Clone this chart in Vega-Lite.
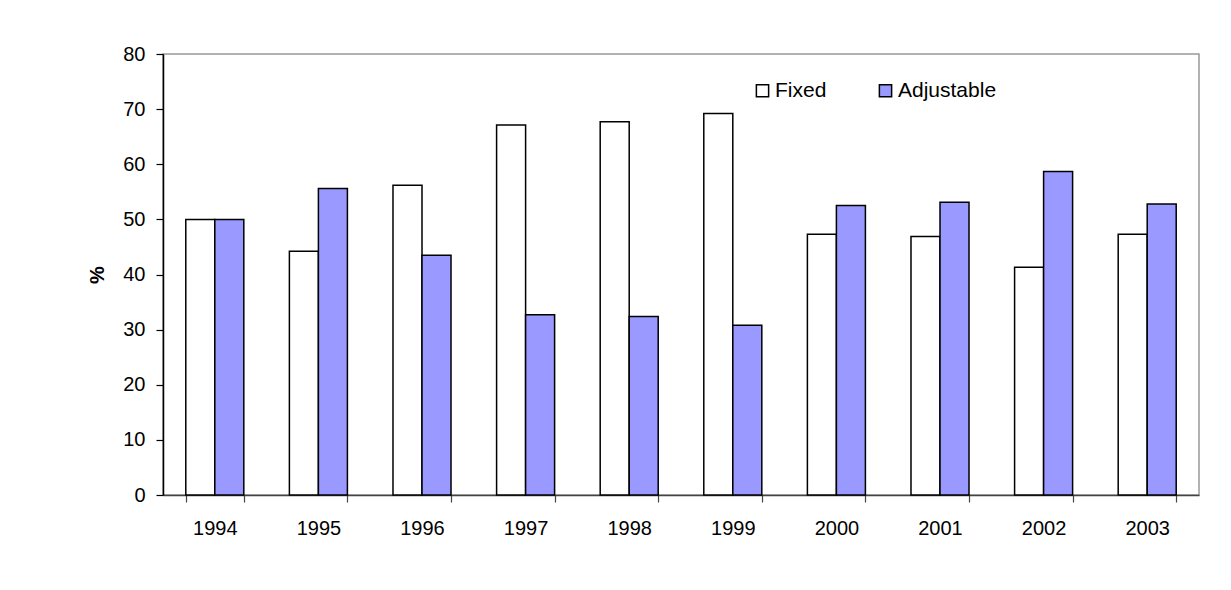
{
  "$schema": "https://vega.github.io/schema/vega-lite/v6.json",
  "autosize": {"type": "none"},
  "width": 1036,
  "height": 441,
  "padding": {"left": 163, "top": 54, "right": 32, "bottom": 95},
  "background": "white",
  "config": {
    "font": "Liberation Sans",
    "view": {"stroke": "#999999", "strokeWidth": 1.5},
    "axis": {"labelFont": "Liberation Sans", "labelColor": "black", "titleFont": "Liberation Sans", "grid": false},
    "legend": {"labelFont": "Liberation Sans"}
  },
  "data": {
    "values": [
      {"year": "1994", "type": "Fixed", "value": 50.0},
      {"year": "1994", "type": "Adjustable", "value": 50.0},
      {"year": "1995", "type": "Fixed", "value": 44.2},
      {"year": "1995", "type": "Adjustable", "value": 55.6},
      {"year": "1996", "type": "Fixed", "value": 56.2},
      {"year": "1996", "type": "Adjustable", "value": 43.5},
      {"year": "1997", "type": "Fixed", "value": 67.1},
      {"year": "1997", "type": "Adjustable", "value": 32.7},
      {"year": "1998", "type": "Fixed", "value": 67.7},
      {"year": "1998", "type": "Adjustable", "value": 32.4},
      {"year": "1999", "type": "Fixed", "value": 69.2},
      {"year": "1999", "type": "Adjustable", "value": 30.8},
      {"year": "2000", "type": "Fixed", "value": 47.3},
      {"year": "2000", "type": "Adjustable", "value": 52.5},
      {"year": "2001", "type": "Fixed", "value": 46.9},
      {"year": "2001", "type": "Adjustable", "value": 53.1},
      {"year": "2002", "type": "Fixed", "value": 41.3},
      {"year": "2002", "type": "Adjustable", "value": 58.7},
      {"year": "2003", "type": "Fixed", "value": 47.3},
      {"year": "2003", "type": "Adjustable", "value": 52.8}
    ]
  },
  "mark": {"type": "bar", "stroke": "black", "strokeWidth": 1.5},
  "encoding": {
    "x": {
      "field": "year",
      "type": "nominal",
      "scale": {"paddingInner": 0.44, "paddingOuter": 0.22},
      "axis": {
        "title": null,
        "labelAngle": 0,
        "labelFontSize": 20,
        "labelPadding": 16,
        "tickSize": 7,
        "tickBand": "extent",
        "tickColor": "#444444",
        "domainColor": "#444444",
        "domainWidth": 1.5,
        "tickWidth": 1.2
      }
    },
    "xOffset": {"field": "type", "type": "nominal", "sort": ["Fixed", "Adjustable"]},
    "y": {
      "field": "value",
      "type": "quantitative",
      "scale": {"domain": [0, 80], "nice": false},
      "axis": {
        "title": "%",
        "titleFontSize": 20,
        "titleFontWeight": "bold",
        "titlePadding": 15,
        "titleColor": "black",
        "values": [0, 10, 20, 30, 40, 50, 60, 70, 80],
        "labelFontSize": 20,
        "labelPadding": 11,
        "tickSize": 7,
        "tickColor": "black",
        "domainColor": "black",
        "domainWidth": 1.5,
        "tickWidth": 1.2
      }
    },
    "color": {
      "field": "type",
      "type": "nominal",
      "sort": ["Fixed", "Adjustable"],
      "scale": {"domain": ["Fixed", "Adjustable"], "range": ["#FFFFFF", "#9999FF"]},
      "legend": {
        "title": null,
        "orient": "none",
        "direction": "horizontal",
        "legendX": 589,
        "legendY": 26,
        "symbolType": "square",
        "symbolSize": 150,
        "symbolStrokeColor": "black",
        "symbolStrokeWidth": 1.5,
        "labelFontSize": 21,
        "labelColor": "black",
        "labelOffset": 2,
        "columnPadding": 48
      }
    }
  }
}
